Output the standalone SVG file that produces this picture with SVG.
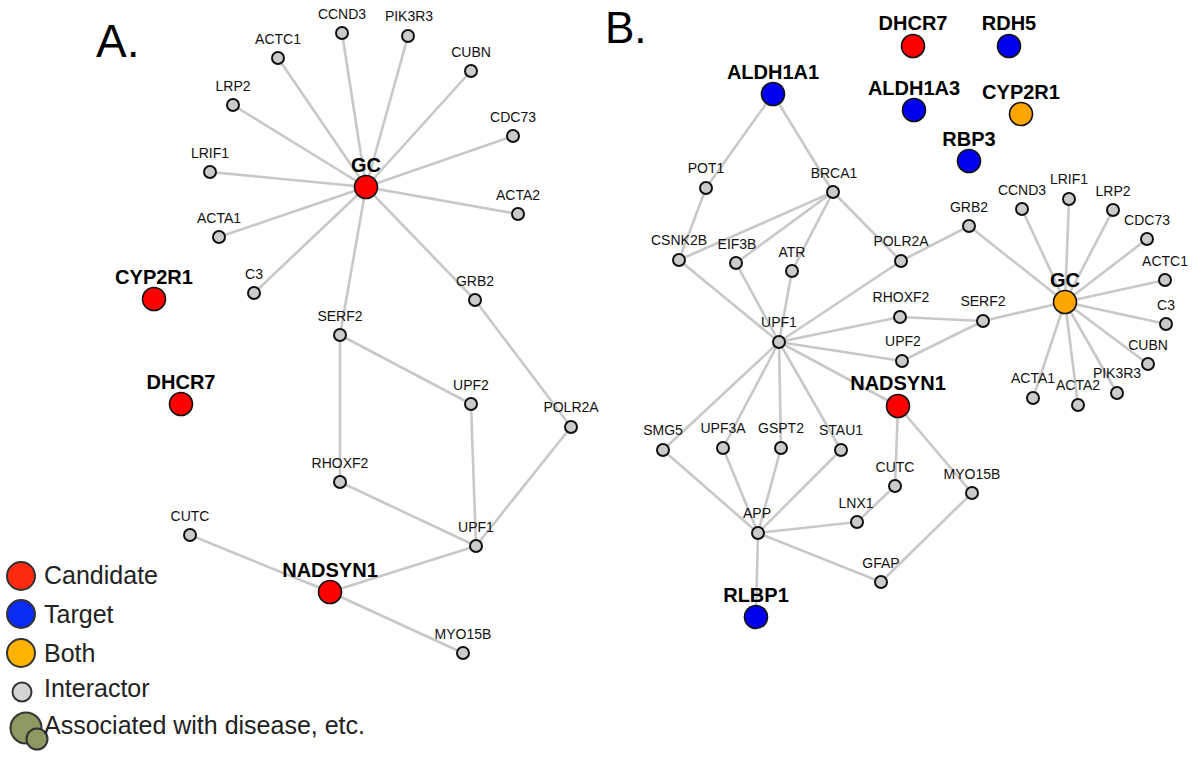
<svg xmlns="http://www.w3.org/2000/svg" width="1200" height="759" viewBox="0 0 1200 759">
<style>
.e{stroke:#c8c8c8;stroke-width:2.6;fill:none;stroke-linecap:round}
.s{fill:#cbcbcb;stroke:#111;stroke-width:2}
.red{fill:#ff0000;stroke:#111;stroke-width:1.6}
.blue{fill:#0000f0;stroke:#111;stroke-width:1.6}
.orn{fill:#ffa500;stroke:#111;stroke-width:1.6}
.t{font-family:"Liberation Sans",Arial,sans-serif;font-size:14px;fill:#111;text-anchor:middle}
.b{font-family:"Liberation Sans",Arial,sans-serif;font-size:20px;font-weight:bold;fill:#000;text-anchor:middle}
.lg{font-family:"Liberation Sans",Arial,sans-serif;font-size:25px;fill:#222}
.title{font-family:"Liberation Sans",Arial,sans-serif;font-size:46px;fill:#000}
</style>
<rect width="1200" height="759" fill="#fff"/>
<text class="title" x="96" y="57">A.</text>
<text class="title" x="605" y="43" style="font-size:44px">B.</text>
<g id="connectors">
<!-- Panel A -->
<line class="e" x1="366" y1="187" x2="278" y2="58"/>
<line class="e" x1="366" y1="187" x2="342" y2="33"/>
<line class="e" x1="366" y1="187" x2="408" y2="36"/>
<line class="e" x1="366" y1="187" x2="471" y2="71"/>
<line class="e" x1="366" y1="187" x2="513" y2="136"/>
<line class="e" x1="366" y1="187" x2="518" y2="214"/>
<line class="e" x1="366" y1="187" x2="233" y2="105"/>
<line class="e" x1="366" y1="187" x2="210" y2="172"/>
<line class="e" x1="366" y1="187" x2="219" y2="237"/>
<line class="e" x1="366" y1="187" x2="254" y2="293"/>
<line class="e" x1="366" y1="187" x2="340" y2="335"/>
<line class="e" x1="366" y1="187" x2="475" y2="300"/>
<line class="e" x1="475" y1="300" x2="571" y2="427"/>
<line class="e" x1="571" y1="427" x2="476" y2="546"/>
<line class="e" x1="340" y1="335" x2="471" y2="404"/>
<line class="e" x1="340" y1="335" x2="340" y2="482"/>
<line class="e" x1="471" y1="404" x2="476" y2="546"/>
<line class="e" x1="340" y1="482" x2="476" y2="546"/>
<line class="e" x1="476" y1="546" x2="330" y2="592"/>
<line class="e" x1="330" y1="592" x2="190" y2="535"/>
<line class="e" x1="330" y1="592" x2="463" y2="653"/>
<!-- Panel B -->
<line class="e" x1="773" y1="94" x2="706" y2="188"/>
<line class="e" x1="773" y1="94" x2="833" y2="192"/>
<line class="e" x1="706" y1="188" x2="679" y2="260"/>
<line class="e" x1="833" y1="192" x2="679" y2="260"/>
<line class="e" x1="833" y1="192" x2="736" y2="263"/>
<line class="e" x1="833" y1="192" x2="792" y2="271"/>
<line class="e" x1="833" y1="192" x2="901" y2="261"/>
<line class="e" x1="679" y1="260" x2="779" y2="342"/>
<line class="e" x1="736" y1="263" x2="779" y2="342"/>
<line class="e" x1="792" y1="271" x2="779" y2="342"/>
<line class="e" x1="901" y1="261" x2="779" y2="342"/>
<line class="e" x1="901" y1="261" x2="969" y2="226"/>
<line class="e" x1="969" y1="226" x2="1065" y2="302"/>
<line class="e" x1="779" y1="342" x2="900" y2="317"/>
<line class="e" x1="779" y1="342" x2="902" y2="361"/>
<line class="e" x1="779" y1="342" x2="898" y2="406"/>
<line class="e" x1="900" y1="317" x2="983" y2="321"/>
<line class="e" x1="902" y1="361" x2="983" y2="321"/>
<line class="e" x1="983" y1="321" x2="1065" y2="302"/>
<line class="e" x1="1065" y1="302" x2="1022" y2="209"/>
<line class="e" x1="1065" y1="302" x2="1069" y2="199"/>
<line class="e" x1="1065" y1="302" x2="1113" y2="210"/>
<line class="e" x1="1065" y1="302" x2="1147" y2="239"/>
<line class="e" x1="1065" y1="302" x2="1165" y2="280"/>
<line class="e" x1="1065" y1="302" x2="1166" y2="324"/>
<line class="e" x1="1065" y1="302" x2="1148" y2="364"/>
<line class="e" x1="1065" y1="302" x2="1117" y2="393"/>
<line class="e" x1="1065" y1="302" x2="1078" y2="405"/>
<line class="e" x1="1065" y1="302" x2="1033" y2="398"/>
<line class="e" x1="779" y1="342" x2="663" y2="450"/>
<line class="e" x1="779" y1="342" x2="723" y2="448"/>
<line class="e" x1="779" y1="342" x2="781" y2="448"/>
<line class="e" x1="779" y1="342" x2="841" y2="450"/>
<line class="e" x1="663" y1="450" x2="758" y2="533"/>
<line class="e" x1="723" y1="448" x2="758" y2="533"/>
<line class="e" x1="781" y1="448" x2="758" y2="533"/>
<line class="e" x1="841" y1="450" x2="758" y2="533"/>
<line class="e" x1="758" y1="533" x2="857" y2="522"/>
<line class="e" x1="857" y1="522" x2="895" y2="486"/>
<line class="e" x1="895" y1="486" x2="898" y2="406"/>
<line class="e" x1="898" y1="406" x2="972" y2="493"/>
<line class="e" x1="972" y1="493" x2="881" y2="582"/>
<line class="e" x1="758" y1="533" x2="881" y2="582"/>
<line class="e" x1="758" y1="533" x2="756" y2="617"/>
</g>
<!-- Panel A nodes -->
<g id="A_GC"><circle class="red" cx="366" cy="187" r="11.5"/><text class="b" x="366" y="172">GC</text></g>
<g id="A_ACTC1"><circle class="s" cx="278" cy="58" r="6"/><text class="t" x="278" y="44">ACTC1</text></g>
<g id="A_CCND3"><circle class="s" cx="342" cy="33" r="6"/><text class="t" x="342" y="19">CCND3</text></g>
<g id="A_PIK3R3"><circle class="s" cx="408" cy="36" r="6"/><text class="t" x="409" y="21">PIK3R3</text></g>
<g id="A_CUBN"><circle class="s" cx="471" cy="71" r="6"/><text class="t" x="471" y="57">CUBN</text></g>
<g id="A_CDC73"><circle class="s" cx="513" cy="136" r="6"/><text class="t" x="513" y="122">CDC73</text></g>
<g id="A_ACTA2"><circle class="s" cx="518" cy="214" r="6"/><text class="t" x="518" y="200">ACTA2</text></g>
<g id="A_LRP2"><circle class="s" cx="233" cy="105" r="6"/><text class="t" x="233" y="91">LRP2</text></g>
<g id="A_LRIF1"><circle class="s" cx="210" cy="172" r="6"/><text class="t" x="210" y="158">LRIF1</text></g>
<g id="A_ACTA1"><circle class="s" cx="219" cy="237" r="6"/><text class="t" x="219" y="223">ACTA1</text></g>
<g id="A_C3"><circle class="s" cx="254" cy="293" r="6"/><text class="t" x="254" y="279">C3</text></g>
<g id="A_CYP2R1"><circle class="red" cx="154" cy="299" r="11.5"/><text class="b" x="154" y="284">CYP2R1</text></g>
<g id="A_DHCR7"><circle class="red" cx="181" cy="404" r="11.5"/><text class="b" x="181" y="389">DHCR7</text></g>
<g id="A_SERF2"><circle class="s" cx="340" cy="335" r="6"/><text class="t" x="340" y="321">SERF2</text></g>
<g id="A_GRB2"><circle class="s" cx="475" cy="300" r="6"/><text class="t" x="475" y="286">GRB2</text></g>
<g id="A_UPF2"><circle class="s" cx="471" cy="404" r="6"/><text class="t" x="471" y="390">UPF2</text></g>
<g id="A_POLR2A"><circle class="s" cx="571" cy="427" r="6"/><text class="t" x="571" y="412">POLR2A</text></g>
<g id="A_RHOXF2"><circle class="s" cx="340" cy="482" r="6"/><text class="t" x="340" y="468">RHOXF2</text></g>
<g id="A_CUTC"><circle class="s" cx="190" cy="535" r="6"/><text class="t" x="190" y="521">CUTC</text></g>
<g id="A_UPF1"><circle class="s" cx="476" cy="546" r="6"/><text class="t" x="476" y="532">UPF1</text></g>
<g id="A_NADSYN1"><circle class="red" cx="330" cy="592" r="11.5"/><text class="b" x="330" y="577">NADSYN1</text></g>
<g id="A_MYO15B"><circle class="s" cx="463" cy="653" r="6"/><text class="t" x="463" y="639">MYO15B</text></g>
<!-- Panel B nodes -->
<g id="B_ALDH1A1"><circle class="blue" cx="773" cy="94" r="11.5"/><text class="b" x="773" y="79">ALDH1A1</text></g>
<g id="B_DHCR7"><circle class="red" cx="913" cy="46" r="11.5"/><text class="b" x="913" y="30">DHCR7</text></g>
<g id="B_RDH5"><circle class="blue" cx="1009" cy="46" r="11.5"/><text class="b" x="1009" y="30">RDH5</text></g>
<g id="B_ALDH1A3"><circle class="blue" cx="914" cy="110" r="11.5"/><text class="b" x="914" y="95">ALDH1A3</text></g>
<g id="B_CYP2R1"><circle class="orn" cx="1021" cy="114" r="11.5"/><text class="b" x="1021" y="99">CYP2R1</text></g>
<g id="B_RBP3"><circle class="blue" cx="969" cy="161" r="11.5"/><text class="b" x="969" y="146">RBP3</text></g>
<g id="B_POT1"><circle class="s" cx="706" cy="188" r="6"/><text class="t" x="706" y="173">POT1</text></g>
<g id="B_BRCA1"><circle class="s" cx="833" cy="192" r="6"/><text class="t" x="834" y="178">BRCA1</text></g>
<g id="B_CSNK2B"><circle class="s" cx="679" cy="260" r="6"/><text class="t" x="679" y="245">CSNK2B</text></g>
<g id="B_EIF3B"><circle class="s" cx="736" cy="263" r="6"/><text class="t" x="737" y="249">EIF3B</text></g>
<g id="B_ATR"><circle class="s" cx="792" cy="271" r="6"/><text class="t" x="792" y="257">ATR</text></g>
<g id="B_POLR2A"><circle class="s" cx="901" cy="261" r="6"/><text class="t" x="901" y="246">POLR2A</text></g>
<g id="B_GRB2"><circle class="s" cx="969" cy="226" r="6"/><text class="t" x="969" y="212">GRB2</text></g>
<g id="B_CCND3"><circle class="s" cx="1022" cy="209" r="6"/><text class="t" x="1022" y="195">CCND3</text></g>
<g id="B_LRIF1"><circle class="s" cx="1069" cy="199" r="6"/><text class="t" x="1069" y="184">LRIF1</text></g>
<g id="B_LRP2"><circle class="s" cx="1113" cy="210" r="6"/><text class="t" x="1113" y="196">LRP2</text></g>
<g id="B_CDC73"><circle class="s" cx="1147" cy="239" r="6"/><text class="t" x="1147" y="225">CDC73</text></g>
<g id="B_ACTC1"><circle class="s" cx="1165" cy="280" r="6"/><text class="t" x="1165" y="266">ACTC1</text></g>
<g id="B_GC"><circle class="orn" cx="1065" cy="302" r="11.5"/><text class="b" x="1065" y="287">GC</text></g>
<g id="B_C3"><circle class="s" cx="1166" cy="324" r="6"/><text class="t" x="1166" y="310">C3</text></g>
<g id="B_CUBN"><circle class="s" cx="1148" cy="364" r="6"/><text class="t" x="1148" y="350">CUBN</text></g>
<g id="B_PIK3R3"><circle class="s" cx="1117" cy="393" r="6"/><text class="t" x="1117" y="378">PIK3R3</text></g>
<g id="B_ACTA2"><circle class="s" cx="1078" cy="405" r="6"/><text class="t" x="1078" y="390">ACTA2</text></g>
<g id="B_ACTA1"><circle class="s" cx="1033" cy="398" r="6"/><text class="t" x="1033" y="383">ACTA1</text></g>
<g id="B_SERF2"><circle class="s" cx="983" cy="321" r="6"/><text class="t" x="983" y="306">SERF2</text></g>
<g id="B_RHOXF2"><circle class="s" cx="900" cy="317" r="6"/><text class="t" x="901" y="302">RHOXF2</text></g>
<g id="B_UPF1"><circle class="s" cx="779" cy="342" r="6"/><text class="t" x="779" y="327">UPF1</text></g>
<g id="B_UPF2"><circle class="s" cx="902" cy="361" r="6"/><text class="t" x="903" y="346">UPF2</text></g>
<g id="B_NADSYN1"><circle class="red" cx="898" cy="406" r="11.5"/><text class="b" x="898" y="390">NADSYN1</text></g>
<g id="B_SMG5"><circle class="s" cx="663" cy="450" r="6"/><text class="t" x="663" y="435">SMG5</text></g>
<g id="B_UPF3A"><circle class="s" cx="723" cy="448" r="6"/><text class="t" x="723" y="433">UPF3A</text></g>
<g id="B_GSPT2"><circle class="s" cx="781" cy="448" r="6"/><text class="t" x="781" y="433">GSPT2</text></g>
<g id="B_STAU1"><circle class="s" cx="841" cy="450" r="6"/><text class="t" x="841" y="435">STAU1</text></g>
<g id="B_CUTC"><circle class="s" cx="895" cy="486" r="6"/><text class="t" x="895" y="472">CUTC</text></g>
<g id="B_MYO15B"><circle class="s" cx="972" cy="493" r="6"/><text class="t" x="972" y="479">MYO15B</text></g>
<g id="B_LNX1"><circle class="s" cx="857" cy="522" r="6"/><text class="t" x="856" y="508">LNX1</text></g>
<g id="B_APP"><circle class="s" cx="758" cy="533" r="6"/><text class="t" x="757" y="518">APP</text></g>
<g id="B_GFAP"><circle class="s" cx="881" cy="582" r="6"/><text class="t" x="881" y="568">GFAP</text></g>
<g id="B_RLBP1"><circle class="blue" cx="756" cy="617" r="11.5"/><text class="b" x="756" y="602">RLBP1</text></g>
<!-- Legend -->
<g id="legend">
<circle cx="21" cy="576" r="14" fill="#ff2a10" stroke="#333" stroke-width="2"/>
<text class="lg" x="44" y="584">Candidate</text>
<circle cx="21" cy="614" r="14" fill="#0a2af5" stroke="#333" stroke-width="2"/>
<text class="lg" x="44" y="623">Target</text>
<circle cx="21" cy="653" r="14" fill="#ffb300" stroke="#333" stroke-width="2"/>
<text class="lg" x="44" y="662">Both</text>
<circle cx="22" cy="692" r="9.5" fill="#d4d4d4" stroke="#333" stroke-width="2"/>
<text class="lg" x="44" y="697">Interactor</text>
<circle cx="26" cy="728" r="15.5" fill="#8c9a62" stroke="#333" stroke-width="2"/>
<circle cx="37" cy="739" r="10.5" fill="#8c9a62" stroke="#333" stroke-width="2"/>
<text class="lg" x="44" y="734">Associated with disease, etc.</text>
</g>
</svg>
